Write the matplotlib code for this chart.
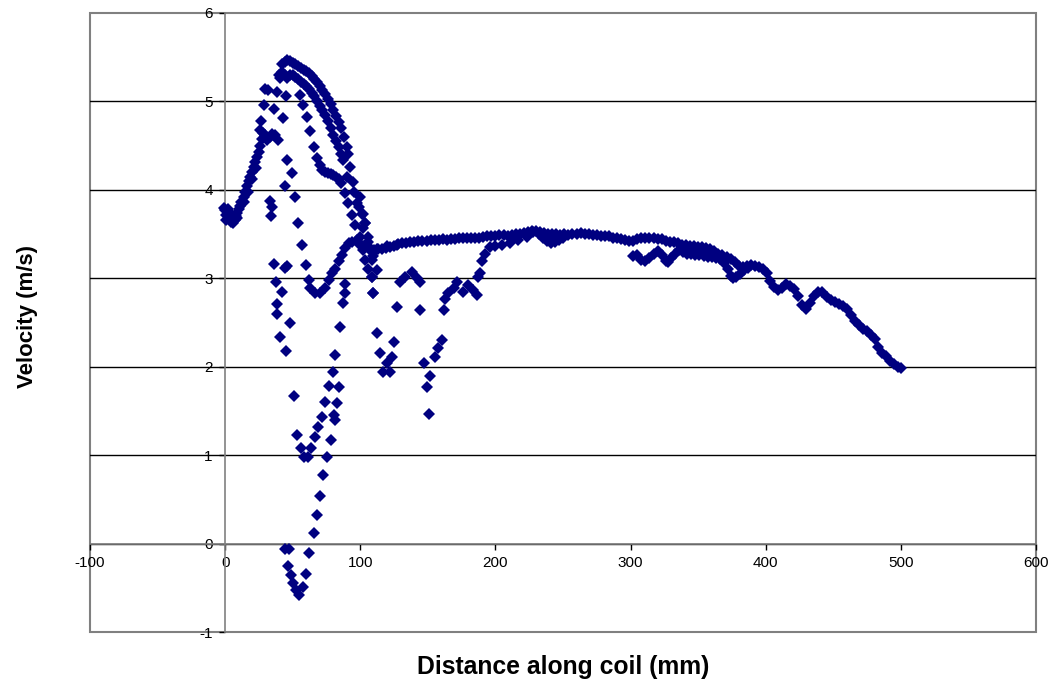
import matplotlib
matplotlib.use("Agg")
import matplotlib.pyplot as plt
from matplotlib.patches import Rectangle

plt.rcParams['font.family'] = ['Liberation Sans', 'DejaVu Sans']

# ---------------- data ----------------
start_x = [-1, 0, 1, 2, 3, 4, 5, 6, 7, 8, 9, 10, 11, 12, 13.6, 15, 16, 17.5, 18.5, 20, 21, 22, 23.4,
           25.4, 26, 27, 26, 28, 29.6, 31, 33, 35, 37, 39.4,
           1, 3, 5, 7, 9, 14, 17, 20, 23]
start_y = [3.80, 3.77, 3.72, 3.78, 3.68, 3.64, 3.72, 3.63, 3.66, 3.70, 3.74, 3.78, 3.82, 3.86, 3.92,
           3.98, 4.04, 4.10, 4.15, 4.20, 4.26, 4.31, 4.37, 4.43, 4.50, 4.58, 4.68, 4.64, 4.62, 4.56,
           4.60, 4.63, 4.62, 4.56,
           3.66, 3.74, 3.66, 3.72, 3.68, 3.86, 3.98, 4.12, 4.25]

peak_outer_x = [42, 44, 46, 48, 50, 52, 54, 56, 58, 60, 62, 64, 66, 68, 70, 72, 74, 76, 78, 80,
                82, 84, 86, 88, 90, 91]
peak_outer_y = [5.42, 5.45, 5.47, 5.46, 5.44, 5.42, 5.40, 5.38, 5.36, 5.34, 5.32, 5.29, 5.25, 5.22,
                5.18, 5.13, 5.08, 5.03, 4.97, 4.90, 4.84, 4.77, 4.70, 4.60, 4.48, 4.40]

peak_inner_x = [40, 42, 44, 46, 48, 50, 52, 54, 56, 58, 60, 62, 64, 66, 68, 70, 72, 74, 76, 78,
                80, 82, 84, 86]
peak_inner_y = [5.30, 5.33, 5.30, 5.26, 5.30, 5.30, 5.28, 5.25, 5.22, 5.20, 5.17, 5.14, 5.10, 5.06,
                5.00, 4.95, 4.90, 4.85, 4.78, 4.70, 4.62, 4.55, 4.48, 4.40]

shoulder_x = [70, 72, 74, 76, 78, 80, 82, 84, 86]
shoulder_y = [4.28, 4.22, 4.20, 4.19, 4.18, 4.17, 4.15, 4.12, 4.08]

fall_x = [87.3, 88.8, 90, 91.2, 92.5, 93.8, 94.8, 95, 96.2, 98.7, 100, 99.9, 102.3, 102.3, 103.6,
          102.3, 106, 103.6, 109.7, 106, 112.2, 108.5, 109.7]
fall_y = [4.34, 3.96, 4.15, 3.85, 4.26, 3.72, 4.09, 3.98, 3.60, 3.81, 3.92, 3.47, 3.73, 3.57, 3.62,
          3.36, 3.41, 3.21, 3.25, 3.11, 3.09, 3.02, 2.83]

sparse_x = [26.6, 28.4, 29.6, 32, 35.8, 38.3, 40.7, 42.7, 45.1, 46.1, 49.4, 44.4, 51.8, 54.2, 57.2,
            59.9, 62.4, 33.3, 35, 34, 55.5, 57.7, 60.7, 62.9, 65.9, 68.1]
sparse_y = [4.78, 4.96, 5.14, 5.13, 4.92, 5.11, 5.26, 4.81, 5.06, 4.34, 4.19, 4.04, 3.92, 3.63, 3.38,
            3.15, 2.98, 3.87, 3.81, 3.70, 5.07, 4.96, 4.82, 4.66, 4.49, 4.36]

dip_x = [36.3, 37.7, 38.7, 38.7, 40.7, 42, 44.4, 46.1, 45.1, 48.1, 51, 53.5, 56, 58.6, 61, 63.6,
         66.6, 69, 71.6, 74, 76.5, 79.7, 81.4, 85.1, 87.1, 88.8, 88.8]
dip_y = [3.16, 2.96, 2.71, 2.60, 2.34, 2.85, 3.12, 3.14, 2.18, 2.50, 1.67, 1.23, 1.08, 0.98, 0.98,
         1.08, 1.20, 1.32, 1.43, 1.60, 1.78, 1.94, 2.13, 2.45, 2.72, 2.83, 2.94]

trough_x = [44.4, 47.6, 46.4, 48.8, 50.1, 52.5, 55, 57.5, 59.9, 62.4, 65.4, 67.8, 70.3, 72.7, 75.2,
            78.2, 80.2, 81.4, 82.6, 84.6]
trough_y = [-0.06, -0.06, -0.25, -0.35, -0.45, -0.52, -0.58, -0.49, -0.34, -0.11, 0.12, 0.32, 0.54,
            0.77, 0.98, 1.17, 1.45, 1.40, 1.59, 1.77]

bump_x = [62.9, 66.6, 70.3, 74, 76.5, 78.9, 81.4, 83.9, 86.4, 88.8, 91.3, 93.7, 97.4, 99.9, 102.3,
          107.3, 112.2, 119.6, 127]
bump_y = [2.89, 2.83, 2.83, 2.89, 2.98, 3.06, 3.11, 3.19, 3.26, 3.34, 3.40, 3.41, 3.43, 3.38, 3.32,
          3.34, 3.33, 3.36, 3.38]

post_x = [97.4, 101, 103.6, 106, 107.3, 108.5, 108.5, 109.7, 112.3, 114.7, 117, 119.6, 122, 123.3,
          124.6, 127, 129.5, 133.2, 138, 141.8, 144.3, 144.3, 146.8, 149.3, 151.7, 150.5, 155.4,
          157.8, 160.3, 161.6, 162.8, 165.2, 169, 171.4, 176.3, 180, 183.7, 186.2, 187.4, 188.7]
post_y = [3.85, 3.73, 3.62, 3.47, 3.32, 3.21, 3.02, 2.83, 2.38, 2.15, 1.94, 2.04, 1.94, 2.11, 2.28,
          2.68, 2.96, 3.02, 3.07, 3.00, 2.96, 2.64, 2.04, 1.77, 1.89, 1.47, 2.11, 2.21, 2.30, 2.64,
          2.77, 2.83, 2.89, 2.96, 2.85, 2.92, 2.87, 2.81, 3.02, 3.06]

plateau_x = [110, 113, 116, 119, 122, 125, 128, 131, 134, 137, 140, 143, 146, 149, 152, 155, 158,
             161, 164, 167, 170, 173, 176, 179, 182, 185, 188, 191, 194, 197, 200, 203, 206, 209,
             212, 215, 218, 221, 224, 227, 230, 233, 236, 239, 242, 245, 248, 251, 254, 257, 260,
             263, 266, 269, 272, 275, 278, 281, 284, 287, 290, 293, 296, 299, 302, 305, 308, 311,
             314, 317, 320, 323, 326, 329, 332, 335, 338, 341, 344, 347, 350, 353, 356, 359, 362,
             365, 368, 371, 374, 377, 380, 383, 386, 389, 392, 395, 398, 401, 403, 406, 409, 412,
             415, 418, 421, 424, 427, 430, 433, 436, 439, 442, 445, 448, 451, 454, 457, 460, 463,
             466, 469, 472, 475, 478, 481, 483, 486, 489, 492, 495, 498, 500]
plateau_y = [3.32, 3.33, 3.33, 3.34, 3.35, 3.37, 3.39, 3.40, 3.40, 3.41, 3.41, 3.42, 3.42, 3.42,
             3.43, 3.43, 3.43, 3.44, 3.43, 3.44, 3.44, 3.45, 3.45, 3.46, 3.45, 3.46, 3.46, 3.47,
             3.48, 3.48, 3.48, 3.49, 3.49, 3.48, 3.49, 3.50, 3.50, 3.51, 3.52, 3.53, 3.53, 3.52,
             3.51, 3.50, 3.50, 3.50, 3.49, 3.50, 3.49, 3.50, 3.50, 3.51, 3.50, 3.50, 3.49, 3.49,
             3.48, 3.48, 3.48, 3.46, 3.45, 3.44, 3.43, 3.42, 3.42, 3.44, 3.45, 3.46, 3.46, 3.45,
             3.44, 3.44, 3.42, 3.41, 3.41, 3.40, 3.38, 3.38, 3.37, 3.36, 3.35, 3.35, 3.34, 3.33,
             3.31, 3.28, 3.26, 3.24, 3.22, 3.18, 3.14, 3.13, 3.14, 3.15, 3.14, 3.13, 3.11, 3.06,
             2.97, 2.90, 2.87, 2.89, 2.93, 2.91, 2.88, 2.80, 2.70, 2.65, 2.72, 2.80, 2.84, 2.85,
             2.79, 2.75, 2.73, 2.71, 2.69, 2.65, 2.58, 2.52, 2.47, 2.43, 2.40, 2.36, 2.31, 2.22,
             2.16, 2.12, 2.07, 2.03, 2.00, 1.99]

loop_x = [190, 192, 196, 200, 205, 211, 217, 223, 228, 232, 235, 238, 241, 244, 247, 250]
loop_y = [3.19, 3.28, 3.35, 3.37, 3.38, 3.40, 3.43, 3.47, 3.52, 3.50, 3.45, 3.42, 3.40, 3.41, 3.43,
          3.45]

lower_x = [302, 305, 308, 311, 314, 317, 320, 323, 326, 328, 330, 333, 336, 339, 342, 345, 348,
           351, 354, 357, 360, 363, 366, 369, 372, 374, 376, 378, 381, 384, 387]
lower_y = [3.25, 3.26, 3.21, 3.19, 3.23, 3.28, 3.31, 3.26, 3.19, 3.18, 3.23, 3.28, 3.32, 3.30,
           3.28, 3.27, 3.26, 3.26, 3.25, 3.24, 3.24, 3.23, 3.22, 3.17, 3.10, 3.03, 3.00, 3.02,
           3.05, 3.09, 3.12]

series = [(start_x, start_y), (peak_outer_x, peak_outer_y), (peak_inner_x, peak_inner_y),
          (shoulder_x, shoulder_y), (fall_x, fall_y), (sparse_x, sparse_y), (dip_x, dip_y),
          (trough_x, trough_y), (bump_x, bump_y), (post_x, post_y), (plateau_x, plateau_y),
          (loop_x, loop_y), (lower_x, lower_y)]

x_ticks = [-100, 0, 100, 200, 300, 400, 500, 600]
y_ticks = [-1, 0, 1, 2, 3, 4, 5, 6]

# ---------------- figure ----------------
fig = plt.figure(figsize=(10.53, 6.83), dpi=100)
ax = fig.add_axes([90 / 1053, 1 - 632 / 683, 946 / 1053, 619 / 683])
ax.set_xlim(-100, 600)
ax.set_ylim(-1, 6)

for yv in y_ticks[1:-1]:
    ax.axhline(yv, color='black', lw=1.0, zorder=1)

for sx, sy in series:
    ax.plot(sx, sy, linestyle='none', marker='D', markersize=5.7, color='#000080',
            markeredgewidth=0, zorder=3)

grey = '#808080'
for s in ['top', 'right']:
    ax.spines[s].set_visible(False)
ax.spines['left'].set_position(('data', 0))
ax.spines['bottom'].set_position(('data', 0))
ax.spines['left'].set_color(grey)
ax.spines['bottom'].set_color(grey)
ax.spines['left'].set_linewidth(1.2)
ax.spines['bottom'].set_linewidth(1.2)
ax.add_patch(Rectangle((0, 0), 1, 1, transform=ax.transAxes, fill=False, edgecolor=grey,
                       lw=1.5, clip_on=False, zorder=0))

ax.set_xticks(x_ticks)
ax.set_yticks(y_ticks)
ax.set_xticklabels([str(v) for v in x_ticks])
ax.set_yticklabels([str(v) for v in y_ticks])
ax.tick_params(axis='both', direction='out', length=4, width=1, color='black',
               labelsize=11, pad=5)

fig.text(563 / 1053, 1 - 667 / 683, 'Distance along coil (mm)', ha='center', va='center',
         fontsize=17.8, fontweight='bold')
fig.text(27 / 1053, 1 - 317 / 683, 'Velocity (m/s)', ha='center', va='center',
         fontsize=16, fontweight='bold', rotation=90)

fig.savefig('out.png', dpi=100)
